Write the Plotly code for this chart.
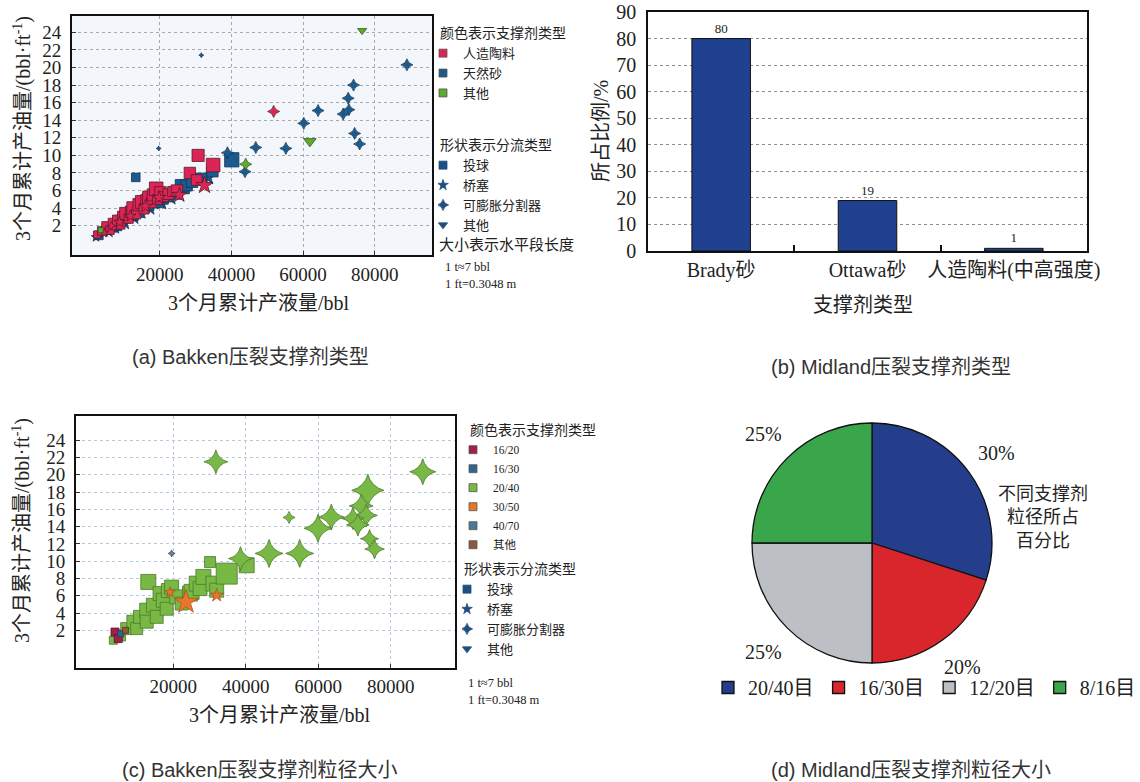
import math
import plotly.graph_objects as go

W, H = 1140, 782
SERIF = "Liberation Serif, Noto Sans CJK SC, serif"
SANS = "Liberation Sans, Noto Sans CJK SC, sans-serif"

# ---------------- (a) Bakken: proppant type / diversion type / lateral length (ft)
a_ceramic_ball_x = [2500, 3800, 5200, 6100, 7200, 8300, 9100, 9800, 10500, 11300, 12000, 12600, 13400, 14200, 15000,
                    15600, 16300, 17000, 17600, 18200, 19000, 19400, 20200, 21100, 22400, 23600, 24800, 28400, 30300,
                    30700, 34900]
a_ceramic_ball_y = [1.0, 1.4, 1.9, 1.5, 2.2, 2.6, 2.1, 3.0, 3.4, 2.8, 3.6, 4.0, 3.3, 4.4, 4.7,
                    3.9, 4.9, 5.2, 4.6, 5.5, 6.2, 5.0, 5.8, 5.3, 5.6, 5.9, 6.0, 8.0, 7.2,
                    10.0, 8.9]
a_ceramic_ball_len = [5000, 6000, 7000, 6000, 8000, 7500, 6000, 8000, 8500, 6500, 8000, 9000, 6500, 8500, 9000,
                      7000, 8000, 9000, 7000, 8500, 9500, 7000, 8000, 7000, 7500, 7000, 8000, 8000, 7500,
                      8500, 9500]

a_ceramic_plug_x = [4500, 8800, 11800, 16000, 19800, 25500, 32500]
a_ceramic_plug_y = [1.2, 2.4, 3.1, 4.2, 5.2, 5.5, 6.6]
a_ceramic_plug_len = [5000, 6000, 6000, 7000, 7000, 8000, 9000]

a_ceramic_div_x = [51800, 6500]
a_ceramic_div_y = [15.0, 2.0]
a_ceramic_div_len = [6000, 4000]

a_sand_ball_x = [3000, 4800, 6800, 8000, 9500, 11000, 12500, 13300, 14000, 15500, 16800, 18000, 19500, 20800,
                 22000, 24500, 26300, 27500, 29000, 31500, 34700, 40100]
a_sand_ball_y = [0.9, 1.5, 1.8, 2.0, 2.7, 3.0, 3.2, 7.5, 3.6, 4.1, 4.4, 4.9, 4.7, 5.1,
                 5.4, 5.7, 6.45, 6.6, 7.0, 7.3, 8.2, 9.5]
a_sand_ball_len = [6000, 6000, 6500, 7000, 7000, 7500, 7500, 6000, 8000, 8000, 8000, 8500, 8000, 8000,
                   8500, 8500, 10000, 8000, 8000, 8500, 8000, 10000]

a_sand_plug_x = [2200, 5800, 7600, 10200, 12800, 14800, 17200, 20500, 23000, 33500]
a_sand_plug_y = [0.7, 1.3, 1.7, 2.3, 2.9, 3.5, 4.0, 4.6, 5.2, 7.5]
a_sand_plug_len = [5000, 6000, 6000, 7000, 7000, 7000, 7500, 7500, 8000, 8000]

a_sand_div_x = [31600, 89000, 74100, 72600, 64200, 72800, 71200, 60200, 74400, 75800, 46800, 55200, 19700,
                38900, 43800]
a_sand_div_y = [21.4, 20.3, 18.0, 16.5, 15.1, 15.2, 14.7, 13.65, 12.5, 11.3, 10.9, 10.8, 10.8,
                10.3, 8.15]
a_sand_div_len = [2500, 6000, 6000, 6000, 6000, 6000, 6000, 6000, 6000, 6000, 6000, 6000, 2500,
                  6000, 6000]

a_other_other_x = [76500, 61900]
a_other_other_y = [24.2, 11.6]
a_other_other_len = [5600, 7700]

a_other_div_x = [44000]
a_other_div_y = [9.0]
a_other_div_len = [6000]

a_other_ball_x = [3500]
a_other_ball_y = [1.5]
a_other_ball_len = [3500]

# ---------------- (c) Bakken: proppant mesh size
c_2040_ball_x = [3460, 5300, 7140, 8980, 9900, 10820, 12660, 12660, 13100, 14500, 15420, 16330, 17250, 18180,
                 18630, 19550, 20940, 22310, 24610, 25050, 26450, 27370, 28290, 30130, 31050, 31970, 34730,
                 40240]
c_2040_ball_y = [0.85, 1.4, 2.2, 3.0, 2.2, 3.56, 4.33, 3.0, 7.6, 4.9, 3.56, 6.25, 5.48, 4.5,
                 6.6, 7.0, 5.87, 5.1, 6.25, 6.45, 7.4, 6.83, 8.18, 9.9, 7.4, 6.64, 8.56,
                 9.53]
c_2040_ball_len = [4000, 5500, 6000, 6500, 6000, 6500, 7000, 6500, 7500, 7000, 6500, 7000, 7000, 6500,
                   7000, 7000, 7000, 6500, 7500, 7500, 7500, 7000, 7500, 5500, 7500, 7000, 10500,
                   7500]

c_2040_div_x = [31740, 88810, 73670, 71830, 73210, 69540, 70910, 63580, 59910, 51930, 74130, 75500, 46420,
                54860, 38530]
c_2040_div_y = [21.5, 20.35, 18.2, 16.4, 15.3, 14.95, 14.2, 15.1, 13.8, 15.06, 12.6, 11.4, 10.9,
                10.9, 10.3]
c_2040_div_len = [8500, 9300, 11500, 8500, 8000, 8000, 8000, 9300, 10000, 4300, 6500, 7000, 10000,
                  10000, 8500]

c_3050_plug_x = [23500, 19100, 31970]
c_3050_plug_y = [5.27, 6.4, 6.05]
c_3050_plug_len = [9000, 4000, 5000]

c_4070_div_x = [19540]
c_4070_div_y = [10.9]
c_4070_div_len = [2500]

c_1620_ball_x = [3920, 4820]
c_1620_ball_y = [1.8, 1.04]
c_1620_ball_len = [4000, 4000]

c_1630_ball_x = [5500]
c_1630_ball_y = [1.6]
c_1630_ball_len = [3000]

c_other_ball_x = [6800]
c_other_ball_y = [2.0]
c_other_ball_len = [3000]

# ---------------- (b) Midland proppant type share (%)
b_categories = ["Brady砂", "Ottawa砂", "人造陶料(中高强度)"]
b_shares = [80, 19, 1]

# ---------------- (d) Midland mesh size share (%)
d_labels = ["20/40目", "16/30目", "12/20目", "8/16目"]
d_shares = [30, 20, 25, 25]

# tick values
a_xticks = [20000, 40000, 60000, 80000]
a_yticks = [2, 4, 6, 8, 10, 12, 14, 16, 18, 20, 22, 24]
b_yticks = [0, 10, 20, 30, 40, 50, 60, 70, 80, 90]

# colours
RED, BLUE, GREEN = "#dc2556", "#1b5a8c", "#5eaa2e"
C_1620, C_1630, C_2040, C_3050, C_4070, C_OTHER = "#a21f4b", "#2f6590", "#78b844", "#e6762b", "#4c7995", "#8b5a3b"
SHAPE_BLUE = "#1f4f80"


def fx(p):
    return p / W


def fy(p):
    return 1 - p / H


fig = go.Figure()


def add_points(x, y, lens, symbol, color, line_color, xa, ya, sizeref, lw=0.8):
    fig.add_trace(go.Scatter(
        x=x, y=y, mode="markers", xaxis=xa, yaxis=ya, showlegend=False, hoverinfo="x+y",
        marker=dict(symbol=symbol, size=lens, sizemode="diameter", sizeref=sizeref, color=color,
                    opacity=1, line=dict(color=line_color, width=lw))))


# panel (a)
SA = 700
add_points(a_sand_plug_x, a_sand_plug_y, a_sand_plug_len, "star", BLUE, "#143555", "x", "y", SA)
add_points(a_sand_ball_x, a_sand_ball_y, a_sand_ball_len, "square", BLUE, "#143555", "x", "y", SA)
add_points(a_ceramic_ball_x, a_ceramic_ball_y, a_ceramic_ball_len, "square", RED, "#5a1a2a", "x", "y", SA)
add_points(a_ceramic_plug_x, a_ceramic_plug_y, a_ceramic_plug_len, "star", RED, "#5a1a2a", "x", "y", SA)
add_points(a_other_ball_x, a_other_ball_y, a_other_ball_len, "square", GREEN, "#2d5a1a", "x", "y", SA)
add_points(a_ceramic_div_x, a_ceramic_div_y, a_ceramic_div_len, "star-diamond", RED, "#5a1a2a", "x", "y", SA)
add_points(a_sand_div_x, a_sand_div_y, a_sand_div_len, "star-diamond", BLUE, "#143555", "x", "y", SA)
add_points(a_other_div_x, a_other_div_y, a_other_div_len, "star-diamond", GREEN, "#2d5a1a", "x", "y", SA)
add_points(a_other_other_x, a_other_other_y, a_other_other_len, "triangle-down", GREEN, "#2d5a1a", "x", "y", SA)

# panel (c)
SC = 500
add_points(c_2040_ball_x, c_2040_ball_y, c_2040_ball_len, "square", C_2040, "#4d7a2a", "x3", "y3", SC)
add_points(c_3050_plug_x, c_3050_plug_y, c_3050_plug_len, "star", C_3050, "#b0561c", "x3", "y3", SC)
add_points(c_1620_ball_x, c_1620_ball_y, c_1620_ball_len, "square", C_1620, "#5a1029", "x3", "y3", SC)
add_points(c_1630_ball_x, c_1630_ball_y, c_1630_ball_len, "square", C_1630, "#1d3f5c", "x3", "y3", SC)
add_points(c_other_ball_x, c_other_ball_y, c_other_ball_len, "square", C_OTHER, "#553520", "x3", "y3", SC)
add_points(c_4070_div_x, c_4070_div_y, c_4070_div_len, "star-diamond", "#6f7e92", "#4a5566", "x3", "y3", SC)
add_points(c_2040_div_x, c_2040_div_y, c_2040_div_len, "star-diamond", C_2040, "#4d7a2a", "x3", "y3", SC)

# panel (b)
fig.add_trace(go.Bar(
    x=b_categories, y=b_shares, width=0.4, xaxis="x2", yaxis="y2", showlegend=False,
    marker=dict(color="#20418f", line=dict(color="#111", width=1)),
    text=b_shares, textposition="outside", cliponaxis=False,
    textfont=dict(family=SERIF, size=13, color="#222")))

# panel (d)
fig.add_trace(go.Pie(
    values=d_shares, labels=d_labels, sort=False, direction="clockwise", rotation=0,
    textinfo="none", hoverinfo="label+percent", legend="legend3",
    marker=dict(colors=["#253e8b", "#d8262c", "#bcc0c5", "#3aa64b"], line=dict(color="#111", width=1.3)),
    domain=dict(x=[fx(752), fx(992)], y=[fy(663), fy(423)])))


# legend-only keys
def key(name, symbol, color, legend, axes, line="#555"):
    fig.add_trace(go.Scatter(
        x=[None], y=[None], mode="markers", name=name, legend=legend, xaxis=axes[0], yaxis=axes[1],
        marker=dict(symbol=symbol, size=8, color=color, line=dict(color=line, width=0.8))))


for nm, col in [("人造陶料", RED), ("天然砂", BLUE), ("其他", GREEN)]:
    key(nm, "square", col, "legend", ("x", "y"))
for nm, col in [("16/20", C_1620), ("16/30", C_1630), ("20/40", C_2040), ("30/50", C_3050),
                ("40/70", C_4070), ("其他", C_OTHER)]:
    key(nm, "square", col, "legend2", ("x3", "y3"))
for lg, axes in [("legend4", ("x", "y")), ("legend5", ("x3", "y3"))]:
    for nm, sym in [("投球", "square"), ("桥塞", "star"), ("可膨胀分割器", "star-diamond"), ("其他", "triangle-down")]:
        key(nm, sym, SHAPE_BLUE, lg, axes, line=SHAPE_BLUE)


def side_legend(x, y, title, size, indent=-15):
    return dict(x=fx(x), y=fy(y), xanchor="left", yanchor="top", bgcolor="rgba(0,0,0,0)",
                borderwidth=0, itemsizing="trace", indentation=indent,
                title=dict(text=title, font=dict(family=SERIF, size=14, color="#222")),
                font=dict(family=SERIF, size=size, color="#222"))


tickfont = dict(family=SERIF, size=19, color="#222")
scatter_axis = dict(showline=True, mirror=True, linecolor="#111", linewidth=2, zeroline=False,
                    showgrid=True, griddash="dot", ticks="inside", ticklen=4, tickcolor="#333",
                    tickfont=tickfont)

fig.update_layout(
    width=W, height=H, autosize=False, margin=dict(l=0, r=0, t=0, b=0, autoexpand=False),
    paper_bgcolor="white", plot_bgcolor="white",
    font=dict(family=SERIF, color="#222"),
    xaxis=dict(domain=[fx(72), fx(432)], range=[-4500, 96000], tickvals=a_xticks,
               ticktext=[str(v) for v in a_xticks], anchor="y", gridcolor="#a8a8a8",
               ticklabelstandoff=1, **scatter_axis),
    yaxis=dict(domain=[fy(255), fy(16)], range=[-1.33, 25.86], tickvals=a_yticks, anchor="x",
               gridcolor="#a8a8a8", ticklabelstandoff=5, **scatter_axis),
    xaxis3=dict(domain=[fx(76), fx(455)], range=[-6840, 97700], tickvals=a_xticks,
                ticktext=[str(v) for v in a_xticks], anchor="y3", gridcolor="#b7c9dc",
                ticklabelstandoff=0, **scatter_axis),
    yaxis3=dict(domain=[fy(668), fy(416)], range=[-2.36, 26.8], tickvals=a_yticks, anchor="x3",
                gridcolor="#b7c9dc", ticklabelstandoff=5, **scatter_axis),
    xaxis2=dict(domain=[fx(648), fx(1087)], type="category", range=[-0.5, 2.5], anchor="y2",
                showline=True, mirror=True, linecolor="#111", linewidth=1.5, showgrid=False,
                ticks="inside", tickson="boundaries", ticklen=6, tickwidth=2, tickcolor="#111",
                tickangle=0, tickfont=dict(family=SERIF, size=20, color="#222"), ticklabelstandoff=0),
    yaxis2=dict(domain=[fy(251), fy(12)], range=[0, 90], tickvals=b_yticks, anchor="x2",
                showline=True, mirror=True, linecolor="#111", linewidth=1.5, zeroline=False,
                showgrid=True, griddash="dot", gridcolor="#8c8c8c", ticks="",
                tickfont=dict(family=SERIF, size=20, color="#222"), ticklabelstandoff=6),
    legend=side_legend(438, 20, "颜色表示支撑剂类型", 13),
    legend4=side_legend(438, 132, "形状表示分流类型", 13),
    legend2=side_legend(468, 417, "颜色表示支撑剂类型", 11.5),
    legend5=side_legend(462, 556, "形状表示分流类型", 13),
    legend3=dict(x=fx(708), y=fy(668), xanchor="left", yanchor="top", orientation="h",
                 bgcolor="rgba(0,0,0,0)", font=dict(family=SERIF, size=20, color="#222")),
)

# plot background of panel (a)
fig.add_shape(type="rect", xref="x domain", yref="y domain", x0=0, x1=1, y0=0, y1=1,
              fillcolor="#f3f6fa", line=dict(width=0), layer="below")

ann = []


def text(x, y, s, size, family=SERIF, angle=0, color="#222", xanchor="center"):
    ann.append(dict(x=fx(x), y=fy(y), xref="paper", yref="paper", text=s, showarrow=False,
                    textangle=angle, xanchor=xanchor, yanchor="middle",
                    font=dict(family=family, size=size, color=color)))


# axis titles
text(22, 129, "3个月累计产油量/(bbl·ft<sup>-1</sup>)", 20, angle=-90)
text(259, 303, "3个月累计产液量/bbl", 20)
text(601, 131, "所占比例/%", 20, angle=-90)
text(863, 305, "支撑剂类型", 20)
text(21, 531, "3个月累计产油量/(bbl·ft<sup>-1</sup>)", 20, angle=-90)
text(280, 715, "3个月累计产液量/bbl", 20)

# notes beside the scatter legends
text(437, 245, "大小表示水平段长度", 15, xanchor="left")
text(443, 267, "1 t≈7 bbl", 12.5, xanchor="left")
text(443, 284, "1 ft=0.3048 m", 12.5, xanchor="left")
text(466, 683, "1 t≈7 bbl", 12.5, xanchor="left")
text(466, 700, "1 ft=0.3048 m", 12.5, xanchor="left")

# pie percentage labels placed along each slice's mid-angle
cx, cy, R = 872, 543, 120
total = sum(d_shares)
cum = 0
for v in d_shares:
    mid = (cum + v / 2) / total * 2 * math.pi
    cum += v
    text(cx + 1.28 * R * math.sin(mid), cy - 1.28 * R * math.cos(mid), f"{v}%", 20)

text(1043, 517, "不同支撑剂<br>粒径所占<br>百分比", 18)

# captions
text(250, 357, "(a) Bakken压裂支撑剂类型", 20, family=SANS, color="#333")
text(891, 367, "(b) Midland压裂支撑剂类型", 20, family=SANS, color="#333")
text(260, 770, "(c) Bakken压裂支撑剂粒径大小", 20, family=SANS, color="#333")
text(911, 770, "(d) Midland压裂支撑剂粒径大小", 20, family=SANS, color="#333")

fig.update_layout(annotations=ann)
fig.write_html("out.html")
